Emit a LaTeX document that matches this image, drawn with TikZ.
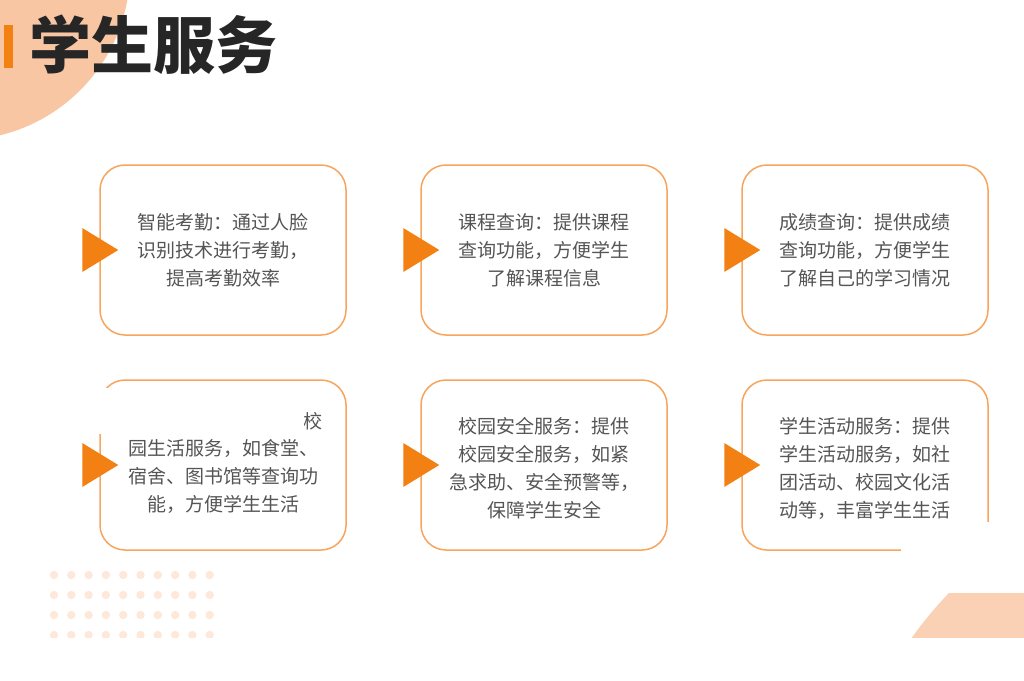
\documentclass[tikz,border=0pt]{standalone}
\usepackage{fontspec}
\setmainfont{Noto Sans CJK SC}
\usetikzlibrary{positioning}
\definecolor{boxline}{HTML}{F7A45C}
\definecolor{arrowtri}{HTML}{F28012}
\definecolor{peach}{HTML}{F9C6A3}
\definecolor{dotcol}{HTML}{FDE8DA}
\definecolor{txt}{HTML}{555555}
\begin{document}
\begin{tikzpicture}[x=1pt,y=-1pt,
  card/.style = {draw=boxline, line width=1.5pt, rounded corners=25pt, minimum width=246pt, minimum height=170pt, fill=white},
  cardtext/.style = {text=txt, font=\fontsize{19}{28}\selectfont, align=center},
  pointer/.style = {fill=arrowtri}]
  \useasboundingbox (0,0) rectangle (1024,680);

  % background decoration
  \begin{scope}
    \clip (0,0) rectangle (1024,680);
    \fill[peach] (-40,-30) circle (170);
    \clip (0,593) rectangle (1024,637);
    \fill[peach!80] (1250,880) circle (416);
  \end{scope}
  \foreach \i in {0,...,9}
    \foreach \j in {0,...,3}
      \fill[dotcol] (54+17.3*\i,575+20*\j) circle (4.2);
  \fill[white] (40,638) rectangle (230,650);

  % title
  \fill[arrowtri] (4,25) rectangle (13,68);
  \node[anchor=west, font=\fontsize{62}{66}\selectfont\bfseries, text=black!85] (title) at (26,45) {学生服务};

  % cards
  \node[card] (attend) at (223,250) {};
  \node[card] (course) at (544,250) {};
  \node[card] (grade) at (865,250) {};
  \node[card] (life) at (223,465) {};
  \node[card] (safety) at (544,465) {};
  \node[card] (activity) at (865,465) {};

  \node[cardtext] (attendText) at (attend) {智能考勤：通过人脸\\识别技术进行考勤，\\提高考勤效率};
  \node[cardtext] (courseText) at (course) {课程查询：提供课程\\查询功能，方便学生\\了解课程信息};
  \node[cardtext] (gradeText) at (grade) {成绩查询：提供成绩\\查询功能，方便学生\\了解自己的学习情况};
  \node[cardtext] (lifeText) at ([yshift=-11pt]life) {园生活服务，如食堂、\\宿舍、图书馆等查询功\\能，方便学生生活};
  \node[cardtext, anchor=east] (lifeHead) at (326,421) {生活服务：提供校};
  \node[cardtext] (safetyText) at ([yshift=-3pt]safety) {校园安全服务：提供\\校园安全服务，如紧\\急求助、安全预警等，\\保障学生安全};
  \node[cardtext] (activityText) at ([yshift=-3pt]activity) {学生活动服务：提供\\学生活动服务，如社\\团活动、校园文化活\\动等，丰富学生生活};

  % covered patches
  \fill[white] (95,388) rectangle (304,434);
  \fill[white] (901,522) rectangle (1000,560);

  % pointers
  \foreach \c in {attend,course,grade,life,safety,activity}
    \fill[pointer] ([xshift=-17pt,yshift=-22pt]\c.west) -- ([xshift=19pt]\c.west) -- ([xshift=-17pt,yshift=22pt]\c.west) -- cycle;
\end{tikzpicture}
\end{document}
